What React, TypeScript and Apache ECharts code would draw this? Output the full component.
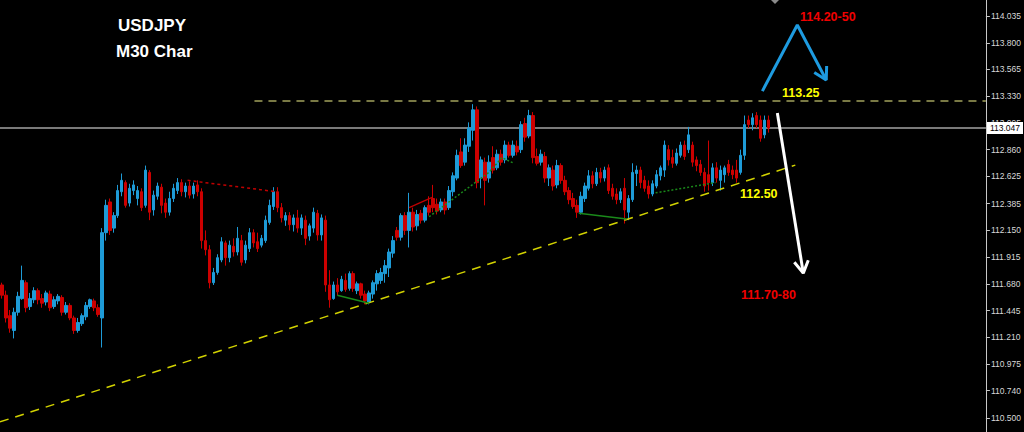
import React, { useEffect, useRef } from 'react';
import * as echarts from 'echarts';

// [open, close, low, high] for each M30 bar
const candles: number[][] = [
  [111.67,111.58,111.55,111.69],[111.58,111.38,111.34,111.62],[111.40,111.29,111.25,111.45],[111.27,111.43,111.20,111.47],
  [111.43,111.57,111.40,111.61],[111.55,111.71,111.54,111.84],[111.69,111.47,111.43,111.71],[111.48,111.55,111.45,111.60],
  [111.54,111.62,111.51,111.65],[111.62,111.54,111.50,111.64],[111.55,111.51,111.47,111.59],[111.52,111.60,111.49,111.62],
  [111.59,111.47,111.44,111.62],[111.48,111.54,111.46,111.57],[111.53,111.57,111.50,111.59],[111.56,111.43,111.40,111.58],
  [111.43,111.49,111.41,111.52],[111.49,111.38,111.36,111.51],[111.38,111.27,111.24,111.40],[111.27,111.34,111.25,111.38],
  [111.33,111.40,111.31,111.42],[111.39,111.49,111.36,111.52],[111.48,111.54,111.46,111.55],[111.53,111.47,111.44,111.55],
  [111.47,111.41,111.39,111.50],[111.38,112.13,111.12,112.17],
  [112.13,112.37,112.06,112.42],[112.40,112.15,112.11,112.43],[112.17,112.28,112.13,112.31],[112.28,112.50,112.26,112.55],
  [112.49,112.59,112.45,112.65],[112.57,112.37,112.35,112.59],[112.39,112.52,112.36,112.56],[112.50,112.55,112.46,112.59],
  [112.43,112.50,112.37,112.54],[112.49,112.35,112.32,112.52],[112.37,112.68,112.35,112.72],[112.66,112.31,112.24,112.68],
  [112.33,112.46,112.28,112.50],[112.45,112.54,112.42,112.57],[112.53,112.37,112.30,112.56],[112.39,112.31,112.26,112.43],
  [112.31,112.43,112.28,112.49],[112.43,112.52,112.40,112.56],[112.50,112.57,112.47,112.61],[112.57,112.49,112.45,112.60],
  [112.49,112.54,112.44,112.57],[112.54,112.46,112.43,112.58],[112.47,112.54,112.43,112.57],[112.55,112.49,112.45,112.59],
  [112.49,112.06,111.99,112.52],
  [112.06,111.98,111.93,112.15],[111.98,111.69,111.64,112.02],[111.69,111.78,111.67,111.82],[111.78,111.91,111.76,111.94],
  [111.89,112.05,111.87,112.09],[112.04,111.91,111.84,112.06],[111.91,112.02,111.87,112.06],[112.01,111.96,111.92,112.08],
  [111.96,112.08,111.93,112.18],[112.06,111.87,111.84,112.11],[111.89,112.02,111.86,112.06],[111.99,112.13,111.96,112.17],
  [112.13,112.04,112.00,112.16],[112.05,111.99,111.96,112.13],[112.02,112.08,112.00,112.11],[112.06,112.24,112.04,112.28],
  [112.22,112.37,112.20,112.42],[112.36,112.49,112.33,112.53],[112.49,112.35,112.31,112.53],[112.35,112.26,112.22,112.39],
  [112.24,112.28,112.19,112.31],[112.28,112.20,112.15,112.31],[112.20,112.26,112.14,112.29],[112.26,112.17,112.13,112.33],
  [112.17,112.26,112.11,112.29],[112.24,112.08,112.02,112.28],[112.10,112.19,112.06,112.21],[112.17,112.31,112.13,112.35],
  [112.30,112.11,112.06,112.33],[112.11,112.26,112.06,112.29],[112.24,111.67,111.61,112.28],
  [111.67,111.54,111.47,111.80],[111.55,111.67,111.54,111.70],[111.67,111.61,111.58,111.73],[111.62,111.72,111.61,111.75],
  [111.71,111.63,111.61,111.77],[111.64,111.77,111.62,111.79],[111.77,111.64,111.61,111.79],[111.62,111.68,111.59,111.70],
  [111.68,111.58,111.55,111.69],[111.59,111.53,111.50,111.62],[111.52,111.60,111.50,111.62],[111.59,111.69,111.55,111.71],
  [111.68,111.77,111.62,111.80],[111.71,111.78,111.68,111.82],[111.77,111.84,111.69,111.89],[111.82,111.96,111.74,111.99],
  [111.95,112.06,111.91,112.10],[112.15,112.09,112.06,112.18],[112.09,112.28,112.06,112.30],[112.28,112.15,112.11,112.31],
  [112.15,112.31,112.00,112.48],[112.31,112.18,112.14,112.35],[112.19,112.29,112.15,112.33],[112.30,112.24,112.21,112.33],
  [112.24,112.35,112.22,112.37],[112.37,112.31,112.28,112.45],[112.43,112.35,112.31,112.55],[112.38,112.32,112.29,112.43],
  [112.33,112.40,112.31,112.43],[112.40,112.33,112.29,112.43],[112.35,112.50,112.33,112.54],[112.49,112.63,112.45,112.66],
  [112.61,112.81,112.59,112.86],[112.84,112.72,112.70,112.96],[112.75,112.90,112.72,112.96],[112.89,113.05,112.84,113.10],
  [113.03,113.21,112.94,113.26],[113.21,112.57,112.52,113.24],[112.61,112.77,112.52,112.80],[112.75,112.59,112.37,112.79],
  [112.61,112.75,112.57,112.81],[112.79,112.68,112.65,112.89],[112.70,112.82,112.68,112.86],[112.82,112.75,112.72,112.86],
  [112.77,112.90,112.74,112.94],[112.90,112.81,112.79,112.93],[112.81,112.90,112.79,112.94],[112.89,112.84,112.81,112.94],
  [112.86,113.08,112.83,113.11],[113.09,112.97,112.93,113.14],[112.98,113.16,112.96,113.21],[113.16,112.79,112.74,113.19],
  [112.80,112.74,112.72,112.87],[112.75,112.82,112.72,112.86],[112.80,112.61,112.57,112.84],[112.61,112.70,112.54,112.73],
  [112.68,112.54,112.50,112.72],[112.55,112.72,112.52,112.77],[112.72,112.59,112.56,112.74],[112.59,112.49,112.46,112.63],
  [112.50,112.42,112.38,112.53],[112.43,112.36,112.34,112.48],[112.37,112.31,112.26,112.42],[112.31,112.45,112.29,112.49],
  [112.43,112.54,112.40,112.57],[112.52,112.63,112.50,112.68],[112.63,112.56,112.52,112.67],[112.56,112.66,112.54,112.70],
  [112.66,112.61,112.57,112.70],[112.61,112.68,112.58,112.71],[112.70,112.50,112.47,112.73],[112.52,112.45,112.42,112.56],
  [112.47,112.42,112.38,112.52],[112.42,112.49,112.39,112.52],[112.52,112.33,112.21,112.61],[112.31,112.43,112.24,112.46],
  [112.42,112.66,112.40,112.74],[112.65,112.68,112.54,112.72],[112.68,112.57,112.52,112.71],[112.59,112.52,112.49,112.63],
  [112.54,112.47,112.43,112.59],[112.47,112.56,112.45,112.59],[112.54,112.64,112.52,112.68],[112.63,112.70,112.59,112.72],
  [112.68,112.90,112.62,112.94],[112.86,112.77,112.72,112.90],[112.79,112.74,112.70,112.86],[112.74,112.83,112.72,112.87],
  [112.81,112.90,112.79,112.93],[112.90,112.80,112.77,112.94],[112.86,112.99,112.83,113.06],[112.90,112.75,112.71,112.93],
  [112.77,112.72,112.67,112.80],[112.73,112.66,112.63,112.77],[112.66,112.54,112.49,112.70],[112.64,112.57,112.50,112.94],
  [112.57,112.70,112.54,112.74],[112.70,112.61,112.57,112.75],[112.59,112.68,112.50,112.72],[112.64,112.70,112.57,112.72],
  [112.73,112.66,112.63,112.77],[112.68,112.64,112.60,112.72],[112.68,112.61,112.57,112.77],[112.66,112.81,112.64,112.86],
  [112.81,113.08,112.77,113.16],[113.12,113.08,113.05,113.16],[113.08,113.14,113.03,113.18],[113.16,113.08,113.05,113.19],
  [113.12,112.96,112.93,113.16],[112.99,113.12,112.96,113.16],[113.12,113.05,113.01,113.16],
];

// Price-axis tick labels (as printed by the terminal)
const yTicks = [114.035, 113.8, 113.565, 113.33, 113.095, 112.86, 112.625, 112.385, 112.15, 111.915, 111.68, 111.445, 111.21, 110.975, 110.74, 110.5];
const yMin = 110.377;
const yMax = 114.176;
const totalSlots = 247; // bars + empty space on the right
const lastPrice = 113.047;

// Drawn objects: [barIndex, price]
const trendSupport = [[-0.5, 110.466], [198.75, 112.724]];
const resistanceLine = [[63.25, 113.288], [246.5, 113.288]];
const redHighsLine = [[46.5, 112.59], [68.75, 112.49]];
const greenLow1 = [[84, 111.58], [92, 111.51]];
const redLine2 = [[102, 112.35], [107.75, 112.44]];
const greenDotted1 = [[107, 112.27], [122, 112.66], [125.25, 112.79], [128.25, 112.74]];
const greenLow2 = [[144.5, 112.30], [156.5, 112.25]];
const greenDotted2 = [[163.75, 112.48], [178.75, 112.57]];
const blueArrow = [[190.5, 113.375], [199.25, 113.956], [206.5, 113.472]];
const blueArrowHead = [[206.6, 113.595], [206.5, 113.472], [203.5, 113.538]];
const whiteArrow = [[194.25, 113.182], [200.75, 111.774]];
const whiteArrowHead = [[202, 111.888], [200.75, 111.774], [198.5, 111.870]];

const categories = Array.from({ length: totalSlots }, (_, i) => String(i));

function lineSeries(data: number[][], color: string, width: number, type: any, z = 5) {
  return {
    type: 'line',
    xAxisIndex: 1,
    yAxisIndex: 0,
    data,
    symbol: 'none',
    silent: true,
    z,
    lineStyle: { color, width, type, cap: 'butt' },
  };
}

export default function App() {
  const ref = useRef<HTMLDivElement>(null);
  useEffect(() => {
    document.body.style.margin = '0';
    document.body.style.background = '#000';
    const chart = echarts.init(ref.current!, null, { renderer: 'svg' });
    const boldFont = '"Liberation Sans", Arial, sans-serif';
    chart.setOption({
      animation: false,
      backgroundColor: '#000000',
      grid: { left: 0, right: 36, top: 0, bottom: 0, containLabel: false },
      xAxis: [
        { type: 'category', data: categories, boundaryGap: true, show: false },
        { type: 'value', min: -0.5, max: totalSlots - 0.5, show: false },
      ],
      yAxis: {
        type: 'value',
        position: 'right',
        min: yMin,
        max: yMax,
        scale: true,
        splitLine: { show: false },
        axisLine: { show: true, onZero: false, lineStyle: { color: '#c8c8c8', width: 1 } },
        axisTick: { show: true, length: 4, customValues: yTicks, lineStyle: { color: '#c8c8c8' } },
        axisLabel: {
          customValues: yTicks,
          color: '#d8d8d8',
          fontSize: 8.5,
          fontFamily: '"Liberation Sans", Arial, sans-serif',
          margin: 5,
          formatter: (v: number) => v.toFixed(3),
        },
      },
      series: [
        {
          type: 'candlestick',
          xAxisIndex: 0,
          yAxisIndex: 0,
          data: candles,
          barWidth: 3,
          z: 3,
          itemStyle: {
            color: '#1e9bd7',
            color0: '#cc0000',
            borderColor: '#1e9bd7',
            borderColor0: '#cc0000',
            borderWidth: 1,
          },
          markLine: {
            silent: true,
            symbol: 'none',
            z: 2,
            lineStyle: { color: '#7a7a7a', width: 2, type: 'solid' },
            label: {
              position: 'end',
              distance: 1,
              formatter: lastPrice.toFixed(3),
              backgroundColor: '#ffffff',
              color: '#000000',
              fontSize: 8.5,
              fontFamily: '"Liberation Sans", Arial, sans-serif',
              padding: [2, 3, 1, 3],
            },
            data: [{ yAxis: lastPrice }],
          },
        },
        lineSeries(trendSupport, '#d2d200', 1.5, [9, 7]),
        lineSeries(resistanceLine, '#f2f28a', 1.2, [8, 6]),
        lineSeries(redHighsLine, '#c00000', 1.5, [3, 3]),
        lineSeries(greenLow1, '#1a8a1a', 1.5, 'solid'),
        lineSeries(redLine2, '#c00000', 1.2, 'solid'),
        lineSeries(greenDotted1, '#1a8a1a', 1.5, [2, 2]),
        lineSeries(greenLow2, '#1a8a1a', 1.5, 'solid'),
        lineSeries(greenDotted2, '#1a8a1a', 1.5, [2, 2]),
        lineSeries(blueArrow, '#1e9be0', 3, 'solid', 8),
        lineSeries(blueArrowHead, '#1e9be0', 3, 'solid', 8),
        lineSeries(whiteArrow, '#ffffff', 3, 'solid', 8),
        lineSeries(whiteArrowHead, '#ffffff', 3, 'solid', 8),
      ],
      graphic: [
        { type: 'text', left: 118, top: 17, z: 20, style: { text: 'USDJPY', fill: '#ffffff', font: `bold 17px ${boldFont}` } },
        { type: 'text', left: 116, top: 43, z: 20, style: { text: 'M30 Char', fill: '#ffffff', font: `bold 17px ${boldFont}` } },
        { type: 'text', left: 800, top: 10, z: 20, style: { text: '114.20-50', fill: '#f00000', font: `bold 12.5px ${boldFont}` } },
        { type: 'text', left: 782, top: 86, z: 20, style: { text: '113.25', fill: '#ffff00', font: `bold 12.5px ${boldFont}` } },
        { type: 'text', left: 740, top: 187, z: 20, style: { text: '112.50', fill: '#ffff00', font: `bold 12.5px ${boldFont}` } },
        { type: 'text', left: 741, top: 288, z: 20, style: { text: '111.70-80', fill: '#f00000', font: `bold 12.5px ${boldFont}` } },
        { type: 'polygon', z: 20, shape: { points: [[771, 0], [779, 0], [775, 4]] }, style: { fill: '#8a8a8a' } },
      ],
    });
    return () => chart.dispose();
  }, []);
  return <div ref={ref} style={{ width: 1024, height: 432, background: '#000' }} />;
}
